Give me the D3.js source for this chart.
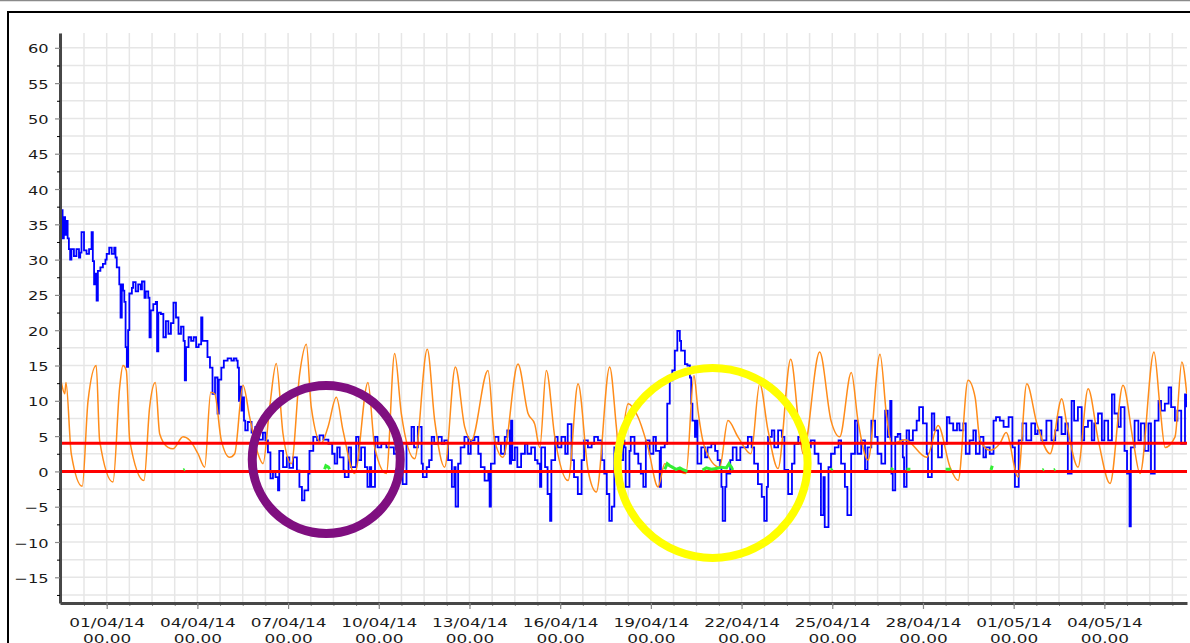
<!DOCTYPE html>
<html>
<head>
<meta charset="utf-8">
<script src="https://cdnjs.cloudflare.com/ajax/libs/d3/7.8.5/d3.min.js"></script>
<style>
  body { margin: 0; background: #fff; }
  svg { display: block; font-family: "DejaVu Sans", Verdana, sans-serif; }
</style>
</head>
<body>
<div id="chart"></div>
<script>
// all times are hours from 01/04/14 00.00 (UTC)
const startHour = -37.06, endHour = 857.6;

const yTicks = [-15, -10, -5, 0, 5, 10, 15, 20, 25, 30, 35, 40, 45, 50, 55, 60];
const dateTicks = ["2014-04-01", "2014-04-04", "2014-04-07", "2014-04-10", "2014-04-13",
  "2014-04-16", "2014-04-19", "2014-04-22", "2014-04-25", "2014-04-28", "2014-05-01", "2014-05-04"];

// threshold lines
const limitValues = [0, 4];

// blue series [hour, value]
const blueSeries = [
  [-36,37],[-35,33],[-34,36],[-33,33.5],[-32,35.5],[-31,33],[-30,31.5],[-29,30],[-28,31.5],[-26,30.5],
  [-24,31.5],[-22,30.3],[-21,31],[-20,33.9],[-18,31.3],[-16,30.8],[-14,31.5],[-12,33.9],[-11,29.8],[-10,26.5],
  [-9,28],[-8,24.2],[-7,28.4],[-5,28.9],[-3,29.4],[-1,30],[0,30.8],[2,31.7],[4,30.8],[6,31.7],
  [7,30.3],[8,28.9],[10,26.5],[11,21.8],[12,26.5],[13,25.6],[14,24],[15,17.6],[16,14.8],[17,20],
  [18,25.2],[20,26],[21,26.8],[23,25.5],[25,26.5],[27,25.8],[28,26.9],[30,24.6],[31,25.5],[33,24.6],
  [34,19],[35,22.8],[37,23.7],[39,24],[40,17],[41,22.5],[43,22.3],[45,19],[47,21.3],[49,19.5],
  [51,21],[53,23.9],[55,21.8],[57,19.5],[59,20.5],[61,18.5],[62,12.9],[63,17.6],[65,19],[67,18.5],
  [69,19],[71,17.6],[73,18],[75,21.8],[76,18.5],[78,18.5],[80,16.2],[82,14.7],[84,11],[86,13.3],
  [88,8.2],[89,13],[91,14.7],[93,15.7],[96,16],[99,15.7],[101,16],[103,15.7],[104,14.7],[105,10],
  [106,12],[107,8.6],[108,10.5],[109,7.2],[110,5.8],[112,7],[115,5.5],[118,6.3],[121,4.5],[124,5.5],
  [126,4.4],[128,2.7],[130,-1],[132,0],[134,-0.8],[136,-2.7],[137,2.9],[140,0.6],[143,2],[145,0.5],
  [148,2],[151,0.1],[153,-2.2],[155,-4.1],[157,-2.7],[160,-0.3],[161,2.9],[164,4.9],[167,4.4],[169,5.1],
  [172,4.5],[176,3.9],[179,2.5],[181,1.1],[183,3.4],[185,2],[188,0.1],[189,-0.8],[192,3.4],[194,0.6],
  [198,4.9],[200,1.6],[202,3.4],[205,0.6],[207,-2.2],[209,0.6],[210,-2.2],[213,4.9],[215,3.4],[218,3.9],
  [222,3.4],[225,3.4],[228,2.5],[231,1.6],[235,-1.8],[238,3.9],[242,6.3],[244,3.4],[247,6.3],[250,1.1],
  [251,-0.8],[254,0.6],[256,1.6],[258,4.9],[260,3.9],[263,4.9],[266,3.9],[268,4.4],[271,1.6],[274,-2.2],
  [276,0.6],[277,-5],[279,1.1],[281,3.4],[284,4.9],[287,2.5],[289,4.4],[292,4.9],[295,2.5],[297,0.6],
  [300,-1.3],[303,-0.3],[304,-5],[305,1.1],[308,4.9],[311,3.9],[313,2.5],[316,4.9],[318,5.8],[320,1.1],
  [321,7.2],[322,1.6],[324,3.4],[326,0.6],[329,2.5],[332,3.9],[334,2.5],[337,3.4],[340,1.6],[342,1.1],
  [344,-2.2],[345,3.4],[348,0.6],[350,-3.2],[352,-7],[353,1.6],[356,4.9],[358,3.4],[361,4.9],[364,2.5],
  [366,6.7],[369,1.6],[371,-0.8],[374,-3.2],[377,1.6],[379,4.4],[382,3.4],[385,3.9],[387,4.9],[390,4.4],
  [393,1.6],[395,-0.3],[397,-3.2],[399,-7],[401,-5],[403,3.4],[407,1.6],[410,4.4],[411,3.4],[412,-2.2],
  [415,2.9],[416,4.9],[419,2.5],[422,1.1],[424,-0.3],[426,-2.2],[428,4.4],[431,2.5],[434,4.9],[436,2.9],
  [439,-2.2],[440,3.4],[443,3.9],[445,9.6],[447,12.9],[449,14.3],[451,17.1],[453,19.9],[455,18.5],[456,17.1],
  [459,15.2],[461,15],[463,13.3],[464,9.6],[465,7.2],[467,4.9],[468,7.2],[469,1.1],[472,3.4],[475,2],
  [477,3.4],[480,3.9],[483,2.9],[485,1.6],[487,0.6],[488,-2.2],[489,-7],[490,-7],[491,-2.2],[492,-0.3],
  [495,1.6],[497,3.4],[500,1.6],[503,3.4],[506,3.4],[509,4.9],[512,3.4],[514,1.1],[517,-1.8],[520,-3.6],
  [522,-7],[524,-2.2],[525,4.9],[528,5.8],[530,3.4],[533,5.8],[536,4.9],[538,0.2],[541,-3.2],[544,1.1],
  [546,3.9],[549,4.9],[551,4.4],[554,2.5],[557,3.4],[559,4.4],[562,2.5],[565,1.1],[567,-6.2],[569,-0.8],
  [570,-7.9],[573,0.6],[575,2.5],[578,3.4],[581,4.4],[583,1.1],[586,-2.2],[588,-6.2],[591,2.5],[594,7.2],
  [596,2.5],[599,4.4],[602,0.2],[604,3.4],[607,7.2],[610,4.9],[612,2.5],[615,1.1],[618,8.6],[620,4.9],
  [622,10],[623,-0.3],[624,-2.7],[626,4.9],[628,5.3],[630,4.4],[632,2],[633,-2.2],[635,5.8],[637,4.4],
  [640,5.8],[643,7.2],[645,9.1],[648,6.8],[651,2.5],[652,-0.8],[655,8.2],[657,5.8],[660,2],[663,3.9],
  [667,7.7],[669,6.8],[672,5.8],[675,6.8],[677,5.8],[680,6.8],[682,2.5],[685,4.4],[688,5.8],[690,2.5],
  [693,4.9],[696,2],[698,3.4],[701,2.5],[704,7.2],[706,7.7],[709,7.2],[712,6.3],[716,7.7],[719,3.4],
  [721,-2.2],[724,4.4],[727,6.8],[730,4.4],[734,6.8],[737,5.3],[739,5.8],[742,4.4],[746,7.2],[750,4.4],
  [753,5.8],[755,7.7],[758,5.3],[761,6.8],[763,-0.3],[766,10],[768,7.2],[771,9.1],[774,4.4],[776,6.3],
  [779,7.2],[782,4.4],[784,6.8],[787,8.2],[790,4.4],[792,7.2],[795,4.4],[798,10.9],[800,8.2],[803,6.3],
  [805,9.1],[808,2.9],[810,-0.3],[812,-7.8],[813,3.4],[816,7.2],[819,4.4],[821,6.8],[824,2.9],[827,6.8],
  [829,-0.3],[832,7.2],[835,10],[837,8.6],[840,9.6],[843,11.9],[845,9.1],[848,7.2],[850,8.6],[853,3.9],
  [856,10.9],[857,9.1]
];

// orange series [hour, value]
const orangeSeries = [
  [-36.0,12.6],[-33.3,11],[-32.3,12.6],[-28.1,2.5],[-19.4,-2.1],[-14.8,10],[-8.3,15],[-5.6,4.4],[5.0,-1.5],[10.3,11.9],
  [12.9,15],[15.6,14.3],[18.3,4.4],[29.6,-1.3],[34.1,9.1],[38.6,12.6],[42.1,5.3],[48.7,3.4],[52.6,3.2],[60.6,4.9],
  [65.9,4.4],[72.5,2.5],[77.8,0.6],[82.6,11.2],[85.7,11],[91.0,4.4],[97.6,2],[101.6,2.5],[108.2,12.2],[113.5,7.7],
  [120.1,2.5],[124.1,1.1],[129.4,9.1],[134.6,15.3],[140.0,5.3],[146.6,1.1],[153.2,13.8],[158.5,18],[162.4,9.1],[170.4,4],
  [175.7,6.3],[182.3,10.5],[187.6,5.8],[196.9,-0.3],[207.4,12.6],[212.8,3.4],[222.0,-0.3],[228.6,16.7],[233.9,8.2],[244.5,1.8],
  [254.5,17.3],[260.4,7.2],[268.3,0.6],[276.8,14.8],[284.2,6.3],[289.5,4.4],[302.7,14.3],[308.0,4.4],[314.6,2],[326.5,15.2],
  [334.5,8.2],[339.8,6.7],[343.8,3.4],[349.0,14.3],[355.7,4.9],[366.3,-1.3],[374.2,12.4],[382.1,0.2],[388.7,-2.9],[399.3,14.8],
  [404.6,6.3],[406.7,2.5],[413.9,9.6],[421.8,7.7],[429.7,3.4],[437.7,-2.2],[443.0,1.1],[448.0,0.6],[459.9,-0.3],[466.2,13.6],
  [469.4,8.6],[474.7,3.4],[486.6,0.6],[493.2,7.2],[501.1,4.9],[511.4,2.5],[518.4,12.4],[525.0,5.8],[532.9,0.4],[543.0,15.9],
  [550.2,5.3],[552.8,2.5],[566.0,16.9],[575.0,7.2],[581.9,4.9],[591.1,14],[596.4,7.2],[604.4,1.6],[613.9,16.6],[619.2,7.7],
  [623.2,3.9],[633.8,4.5],[651.0,2],[660.0,6.5],[669.5,0.6],[675.9,-1.3],[683.8,12.9],[689.4,10.5],[693.3,4.4],[701.3,3],
  [709.2,4],[714.0,5.5],[723.5,-0.8],[730.4,12.4],[738.4,6.8],[748.9,2.5],[758.2,10.3],[762.1,6.8],[771.1,0.6],[779.1,11.7],
  [787.2,4.4],[796.5,-1.7],[806.8,12.2],[814.8,4.4],[820.3,-0.3],[831.4,16.9],[836.2,9.1],[840.2,3.4],[848.1,4.9],[853.5,15.5],
  [857.4,11]
];

// green series, null = gap
const greenSeries = [
  [61,0.2],[62,0.3],[62.5,null],
  [173,0.3],[174,0.8],[176,0.6],[177,0.3],[177.5,null],
  [443,0.3],[445,1.1],[447,0.8],[449,0.6],[452,0.3],[455,0.5],[458,0.2],[461,0],[462,null],
  [473,0.2],[476,0.5],[480,0.3],[484,0.4],[488,0.6],[492,0.5],[494,1.1],[496,0.6],[497,0.2],[498,null],
  [575,0.2],[576,0.4],[577,null],
  [623,0.2],[624,0.5],[625,null],
  [635,0.3],[638,0.3],[639,null],
  [666,0.3],[670,0.3],[671,null],
  [702,0.2],[703,0.8],[704,null],
  [743,0.2],[744,0.3],[745,null],
  [752,0.2],[753,0.3]
];

// annotation rings (centre in hours / value)
const ringHours = [174.3, 481];
const ringValues = [1.7, 1.2];

const ringStyle = [
  {r: 74, color: "#7f0f80", width: 9},
  {r: 95, color: "#ffff00", width: 8}
];

const width = 1190, height = 643;
const plot = {left: 60, right: 1187, top: 33, bottom: 603};

const t0 = Date.UTC(2014, 3, 1);
const toDate = h => new Date(t0 + h * 3600e3);

const x = d3.scaleUtc()
  .domain([toDate(startHour), toDate(endHour)])
  .range([plot.left, plot.right]);

const y = d3.scaleLinear()
  .domain([-18.64, 62.1])
  .range([plot.bottom, plot.top]);

const svg = d3.select("#chart").append("svg")
  .attr("width", width)
  .attr("height", height);

// outer frame
svg.append("line")
  .attr("x1", 0).attr("x2", width).attr("y1", 0.5).attr("y2", 0.5)
  .attr("stroke", "#8a8a8a").attr("stroke-width", 1.5);
svg.append("rect")
  .attr("x", 8).attr("y", 12).attr("width", width + 20).attr("height", height + 20)
  .attr("fill", "none").attr("stroke", "#000").attr("stroke-width", 2);

// grid
const gridY = d3.range(-17.5, 60.1, 2.5);
const gridX = d3.range(-2, 48).map(k => toDate(k * 18));

const grid = svg.append("g").attr("stroke", "#e6e6e6").attr("stroke-width", 1.5);
grid.selectAll(".gy").data(gridY).enter().append("line")
  .attr("x1", plot.left).attr("x2", plot.right)
  .attr("y1", d => y(d)).attr("y2", d => y(d));
grid.selectAll(".gx").data(gridX.filter(d => x(d) > plot.left && x(d) <= plot.right)).enter().append("line")
  .attr("x1", d => x(d)).attr("x2", d => x(d))
  .attr("y1", plot.top).attr("y2", plot.bottom);

// clip for the series
svg.append("clipPath").attr("id", "plotclip")
  .append("rect")
  .attr("x", plot.left).attr("y", plot.top)
  .attr("width", plot.right - plot.left).attr("height", plot.bottom - plot.top);

const series = svg.append("g").attr("clip-path", "url(#plotclip)");

const blueLine = d3.line()
  .x(d => x(toDate(d[0])))
  .y(d => y(d[1]))
  .curve(d3.curveStepAfter);

const orangeLine = d3.line()
  .x(d => x(toDate(d[0])))
  .y(d => y(d[1]))
  .curve(d3.curveMonotoneX);

const simpleLine = d3.line()
  .defined(d => d[1] !== null)
  .x(d => x(toDate(d[0])))
  .y(d => y(d[1]));

series.append("path")
  .datum(blueSeries)
  .attr("d", blueLine)
  .attr("fill", "none")
  .attr("stroke", "#0000ff")
  .attr("stroke-width", 1.8);

series.append("path")
  .datum(orangeSeries)
  .attr("d", orangeLine)
  .attr("fill", "none")
  .attr("stroke", "#ff8c1a")
  .attr("stroke-width", 1.5);

series.selectAll(".limit")
  .data(limitValues)
  .enter().append("line")
  .attr("x1", plot.left).attr("x2", plot.right)
  .attr("y1", d => y(d)).attr("y2", d => y(d))
  .attr("stroke", "#ff0000")
  .attr("stroke-width", 3);

series.append("path")
  .datum(greenSeries)
  .attr("d", simpleLine)
  .attr("fill", "none")
  .attr("stroke", "#33ee33")
  .attr("stroke-width", 3);

// axes
const yAxis = svg.append("g")
  .attr("transform", `translate(${plot.left},0)`)
  .call(d3.axisLeft(y).tickValues(yTicks).tickSize(5).tickSizeOuter(0).tickFormat(d3.format("d")));

svg.append("g")
  .attr("transform", `translate(${plot.left},0)`)
  .call(d3.axisLeft(y).tickValues(gridY.filter(d => d % 5 !== 0)).tickSize(3).tickSizeOuter(0).tickFormat(""))
  .call(g => g.select(".domain").remove());

yAxis.selectAll(".tick line").attr("stroke", "#8a8a8a").attr("stroke-width", 1.2);
yAxis.selectAll(".tick text")
  .attr("x", -8.8)
  .attr("dy", "0.4em")
  .attr("transform", "scale(1.3,1)")
  .attr("font-size", 12.5)
  .attr("font-family", "DejaVu Sans, sans-serif")
  .attr("fill", "#1a1a1a");

const dateParse = d3.utcParse("%Y-%m-%d");
const fmtDay = d3.utcFormat("%d/%m/%y");
const fmtTime = d3.utcFormat("%H.%M");

svg.append("g")
  .attr("transform", `translate(0,${plot.bottom})`)
  .call(d3.axisBottom(x).tickValues(gridX.filter(d => x(d) > plot.left + 2 && x(d) <= plot.right)).tickSize(3).tickSizeOuter(0).tickFormat(""))
  .call(g => g.select(".domain").remove())
  .selectAll(".tick line").attr("stroke", "#8a8a8a");

const xAxis = svg.append("g")
  .attr("transform", `translate(0,${plot.bottom})`)
  .call(d3.axisBottom(x).tickValues(dateTicks.map(dateParse)).tickSize(6).tickSizeOuter(0));

xAxis.selectAll(".tick line").attr("stroke", "#8a8a8a").attr("stroke-width", 1.2);
xAxis.selectAll(".tick text").each(function(d) {
  const t = d3.select(this)
    .text(null)
    .attr("y", 24)
    .attr("dy", 0)
    .attr("transform", "scale(1.3,1)")
    .attr("font-size", 13)
    .attr("font-family", "DejaVu Sans, sans-serif")
    .attr("fill", "#1a1a1a");
  t.append("tspan").attr("x", 0).text(fmtDay(d));
  t.append("tspan").attr("x", 0).attr("dy", 16.5).text(fmtTime(d));
});

svg.selectAll(".domain")
  .attr("stroke", "#474747")
  .attr("stroke-width", 3);

// annotation rings
svg.selectAll(".ring")
  .data(ringHours)
  .enter().append("circle")
  .attr("cx", d => x(toDate(d)))
  .attr("cy", (d, i) => y(ringValues[i]))
  .attr("r", (d, i) => ringStyle[i].r)
  .attr("fill", "none")
  .attr("stroke", (d, i) => ringStyle[i].color)
  .attr("stroke-width", (d, i) => ringStyle[i].width);
</script>
</body>
</html>
